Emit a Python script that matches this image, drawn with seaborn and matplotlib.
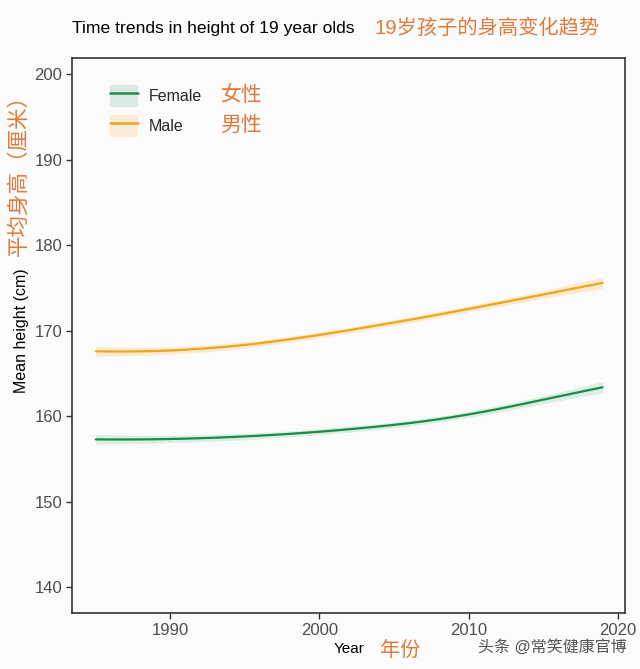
import numpy as np
import pandas as pd
import matplotlib
matplotlib.use("Agg")
import matplotlib.pyplot as plt
import seaborn as sns
from matplotlib.lines import Line2D
from matplotlib.patches import Patch

# data
years = list(range(1985, 2020))
male = [167.60, 167.58, 167.58, 167.60, 167.64, 167.70, 167.79, 167.90, 168.03, 168.18,
        168.35, 168.55, 168.77, 169.01, 169.26, 169.52, 169.80, 170.08, 170.37, 170.67,
        170.97, 171.27, 171.58, 171.90, 172.23, 172.56, 172.89, 173.22, 173.56, 173.90,
        174.24, 174.58, 174.92, 175.26, 175.60]
female = [157.30, 157.29, 157.29, 157.30, 157.32, 157.35, 157.39, 157.44, 157.50, 157.57,
          157.65, 157.74, 157.84, 157.95, 158.07, 158.20, 158.34, 158.49, 158.65, 158.82,
          159.00, 159.20, 159.42, 159.66, 159.93, 160.22, 160.53, 160.86, 161.21, 161.57,
          161.94, 162.31, 162.67, 163.04, 163.40]
# half-width of the uncertainty band (cm)
male_hw = [0.6, 0.55, 0.5, 0.45, 0.45, 0.4, 0.4, 0.4, 0.4, 0.4,
           0.4, 0.35, 0.35, 0.35, 0.35, 0.35, 0.35, 0.35, 0.35, 0.35,
           0.35, 0.35, 0.35, 0.35, 0.35, 0.35, 0.4, 0.4, 0.4, 0.45,
           0.45, 0.5, 0.55, 0.6, 0.65]
female_hw = [0.6, 0.55, 0.5, 0.45, 0.45, 0.4, 0.4, 0.4, 0.4, 0.4,
             0.4, 0.35, 0.35, 0.35, 0.35, 0.35, 0.35, 0.35, 0.35, 0.35,
             0.35, 0.35, 0.35, 0.35, 0.35, 0.35, 0.4, 0.4, 0.4, 0.45,
             0.45, 0.5, 0.55, 0.6, 0.65]

sexes = ["Female", "Male"]
colors = {"Female": "#1b8a4c", "Male": "#e9a71a"}
bands = {"Female": "#d4ecde", "Male": "#fbe8c9"}
keys = {"Female": "#dce9e3", "Male": "#fcebd6"}
orange = "#e07a3c"
fam = ["Liberation Sans", "Noto Sans CJK SC", "DejaVu Sans"]

df = pd.DataFrame({
    "Year": years * 2,
    "Height": female + male,
    "hw": female_hw + male_hw,
    "Sex": ["Female"] * len(years) + ["Male"] * len(years),
})

sns.set_theme(style="white")
plt.rcParams["font.family"] = fam

fig = plt.figure(figsize=(6.4, 6.69), dpi=100, facecolor="#fcfbfc")
ax = fig.add_axes([0.1125, 0.0837, 0.8641, 0.8296])
ax.set_facecolor("#fcfbfc")

for s in sexes:
    d = df[df["Sex"] == s]
    ax.fill_between(d["Year"], d["Height"] - d["hw"], d["Height"] + d["hw"],
                    color=bands[s], lw=0, alpha=0.85)
sns.lineplot(data=df, x="Year", y="Height", hue="Sex", palette=colors,
             lw=1.6, ax=ax, legend=False)

ax.set_xlim(1983.4, 2020.5)
ax.set_ylim(137.0, 201.9)
ax.set_xticks([1990, 2000, 2010, 2020])
ax.set_yticks([140, 150, 160, 170, 180, 190, 200])
ax.tick_params(axis="both", direction="out", length=4, width=1, color="#333333",
               labelsize=12, labelcolor="#4d4d4d", bottom=True, left=True, pad=3)
for sp in ax.spines.values():
    sp.set_color("#333333")
    sp.set_linewidth(1.2)
ax.set_xlabel("")
ax.set_ylabel("")

# legend with band + line keys
handles = [(Patch(facecolor=keys[s], edgecolor="none"),
            Line2D([], [], color=colors[s], lw=1.8)) for s in sexes]
leg = ax.legend(handles, sexes, loc="upper left", bbox_to_anchor=(0.0687, 0.9514),
                frameon=False, fontsize=11.5, handlelength=1.75, handleheight=1.75,
                labelspacing=0.5, handletextpad=0.7, borderpad=0, borderaxespad=0)

# titles and labels
fig.text(72 / 640, 1 - 28 / 669, "Time trends in height of 19 year olds",
         fontsize=12.6, color="black", va="center", ha="left")
fig.text(375 / 640, 1 - 28 / 669, "19岁孩子的身高变化趋势",
         fontsize=14.6, color=orange, va="center", ha="left")
fig.text(220 / 640, 1 - 95 / 669, "女性", fontsize=15, color=orange, va="center")
fig.text(220 / 640, 1 - 125 / 669, "男性", fontsize=15, color=orange, va="center")
fig.text(22 / 640, 1 - 331 / 669, "Mean height (cm)", fontsize=11.5,
         rotation=90, va="center", ha="center", color="black")
fig.text(19 / 640, 1 - 170 / 669, "平均身高（厘米）", fontsize=15.5,
         rotation=90, va="center", ha="center", color=orange)
fig.text(349 / 640, 1 - 649 / 669, "Year", fontsize=11, va="center",
         ha="center", color="black")
fig.text(400 / 640, 1 - 650 / 669, "年份", fontsize=14.5, va="center",
         ha="center", color=orange)
fig.text(552 / 640, 1 - 647 / 669, "头条 @常笑健康官博", fontsize=11.5,
         va="center", ha="center", color="#555555")

fig.savefig("out.png", dpi=100, facecolor=fig.get_facecolor())
